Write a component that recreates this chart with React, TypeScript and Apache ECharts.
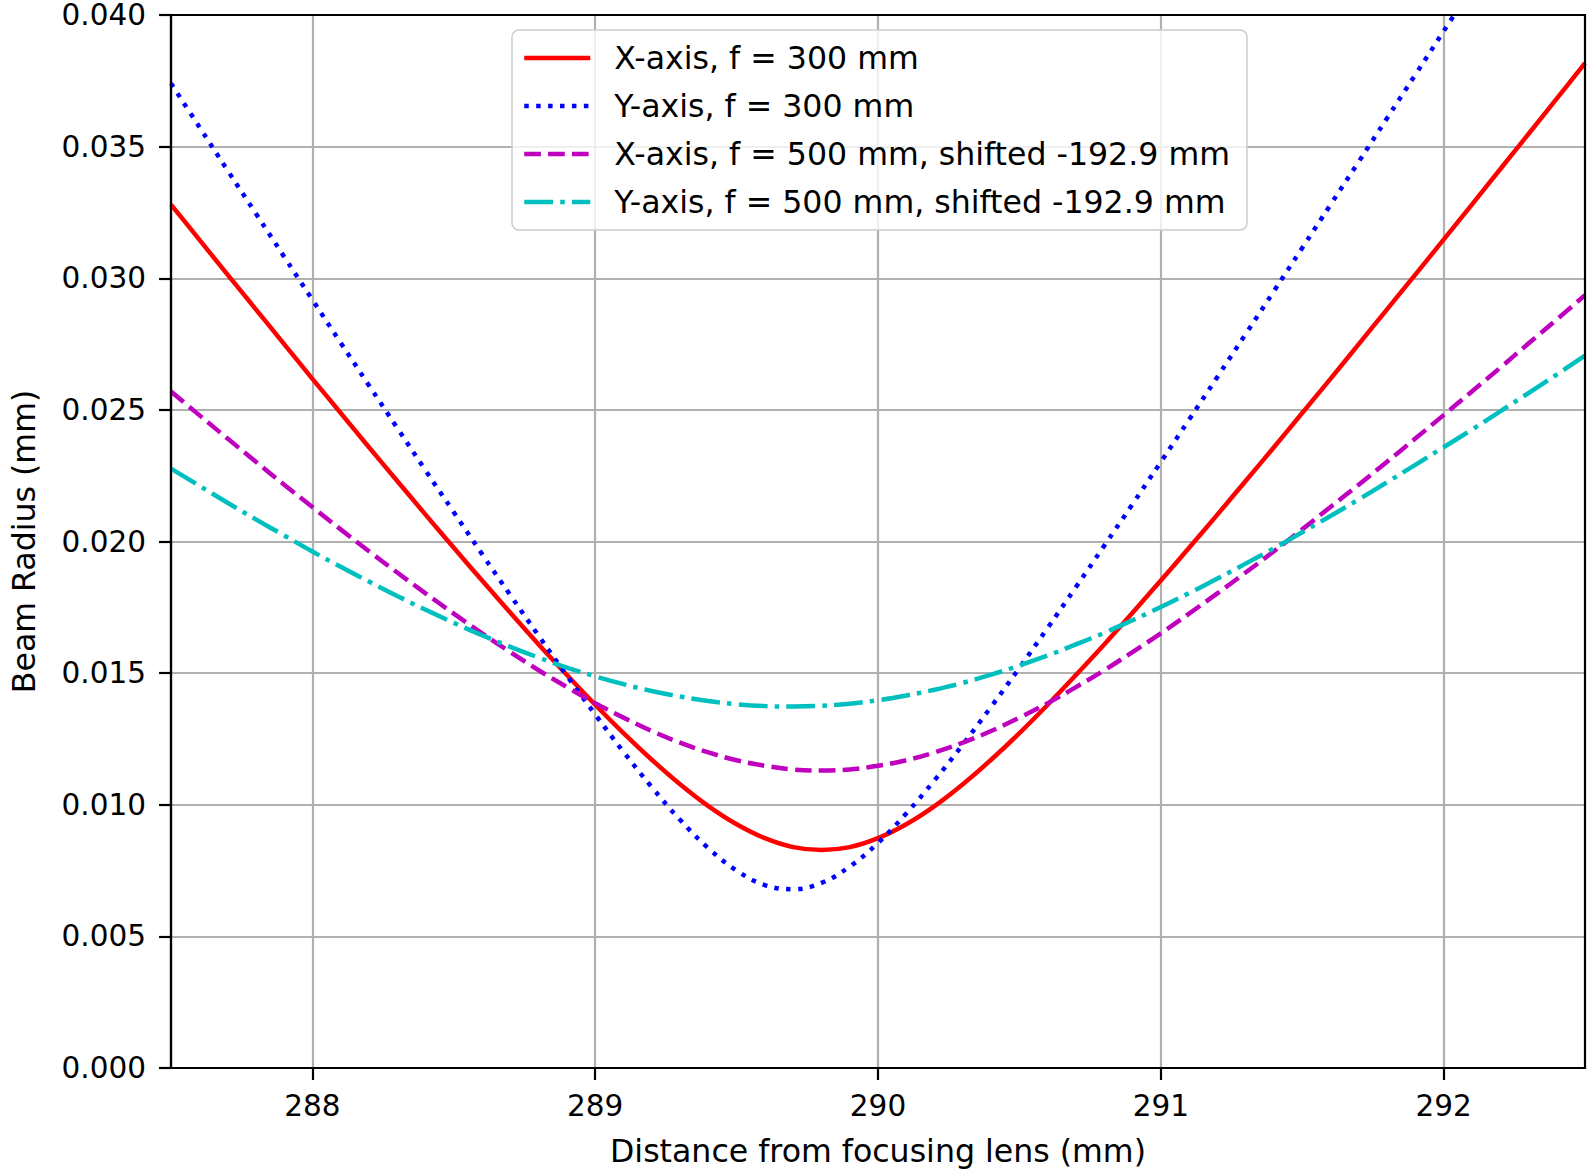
import React, { useEffect, useRef } from "react";
import * as echarts from "echarts";

// Distance from focusing lens (mm)
const distances = [
  287.5, 287.6, 287.7, 287.8, 287.9, 288.0, 288.1, 288.2, 288.3, 288.4,
  288.5, 288.6, 288.7, 288.8, 288.9, 289.0, 289.1, 289.2, 289.3, 289.4,
  289.5, 289.6, 289.7, 289.8, 289.9, 290.0, 290.1, 290.2, 290.3, 290.4,
  290.5, 290.6, 290.7, 290.8, 290.9, 291.0, 291.1, 291.2, 291.3, 291.4,
  291.5, 291.6, 291.7, 291.8, 291.9, 292.0, 292.1, 292.2, 292.3, 292.4,
  292.5,
];

// X-axis, f = 300 mm
const xAxis300 = [
  0.0328, 0.03147, 0.03014, 0.02882, 0.0275, 0.02618, 0.02488, 0.02358, 0.0223, 0.02102,
  0.01976, 0.01852, 0.01729, 0.01609, 0.01493, 0.0138, 0.01272, 0.01171, 0.01078, 0.00995,
  0.00926, 0.00873, 0.00839, 0.00828, 0.00839, 0.00873, 0.00926, 0.00995, 0.01078, 0.01171,
  0.01272, 0.0138, 0.01493, 0.01609, 0.01729, 0.01852, 0.01976, 0.02102, 0.0223, 0.02358,
  0.02488, 0.02618, 0.0275, 0.02882, 0.03014, 0.03147, 0.0328, 0.03414, 0.03548, 0.03682,
  0.03817,
];

// Y-axis, f = 300 mm (leaves the plot at the top after 292.0)
const yAxis300 = [
  0.0374, 0.03575, 0.0341, 0.03246, 0.03082, 0.02918, 0.02755, 0.02593, 0.02431, 0.0227,
  0.02111, 0.01952, 0.01796, 0.01642, 0.0149, 0.01343, 0.01201, 0.01067, 0.00943, 0.00835,
  0.0075, 0.00695, 0.00679, 0.00703, 0.00765, 0.00855, 0.00967, 0.01093, 0.01229, 0.01372,
  0.0152, 0.01672, 0.01827, 0.01984, 0.02142, 0.02302, 0.02463, 0.02625, 0.02788, 0.02951,
  0.03115, 0.03279, 0.03443, 0.03608, 0.03773, 0.03938, 0.04104,
];

// X-axis, f = 500 mm, shifted -192.9 mm
const xAxis500 = [
  0.0257, 0.0248, 0.02391, 0.02303, 0.02216, 0.02131, 0.02046, 0.01963, 0.01882, 0.01803,
  0.01726, 0.01651, 0.0158, 0.01511, 0.01447, 0.01386, 0.01331, 0.0128, 0.01236, 0.01199,
  0.01169, 0.01148, 0.01134, 0.0113, 0.01134, 0.01148, 0.01169, 0.01199, 0.01236, 0.0128,
  0.01331, 0.01386, 0.01447, 0.01511, 0.0158, 0.01651, 0.01726, 0.01803, 0.01882, 0.01963,
  0.02046, 0.02131, 0.02216, 0.02303, 0.02391, 0.0248, 0.0257, 0.0266, 0.02752, 0.02843,
  0.02936,
];

// Y-axis, f = 500 mm, shifted -192.9 mm
const yAxis500 = [
  0.02277, 0.02212, 0.02147, 0.02084, 0.02023, 0.01962, 0.01904, 0.01848, 0.01793, 0.01741,
  0.01691, 0.01644, 0.016, 0.01559, 0.01521, 0.01488, 0.01458, 0.01432, 0.01411, 0.01394,
  0.01382, 0.01375, 0.01373, 0.01376, 0.01384, 0.01397, 0.01415, 0.01437, 0.01463, 0.01494,
  0.01529, 0.01567, 0.01609, 0.01653, 0.01701, 0.01751, 0.01804, 0.01859, 0.01916, 0.01974,
  0.02035, 0.02097, 0.0216, 0.02225, 0.02291, 0.02358, 0.02425, 0.02494, 0.02564, 0.02634,
  0.02706,
];

const seriesNames = [
  "X-axis, f = 300 mm",
  "Y-axis, f = 300 mm",
  "X-axis, f = 500 mm, shifted -192.9 mm",
  "Y-axis, f = 500 mm, shifted -192.9 mm",
];

const xTicks = [288, 289, 290, 291, 292];

const FONT = "DejaVu Sans";
const LW = 4.5;
const TICK_FONT = 29.5;
const LABEL_FONT = 31.6;

function pairs(values: number[]) {
  return values.map((v, i) => [distances[i], v]);
}

export default function App() {
  const ref = useRef<HTMLDivElement>(null);

  useEffect(() => {
    document.body.style.margin = "0";
    document.body.style.overflow = "hidden";
    if (!ref.current) return;
    const chart = echarts.init(ref.current, undefined, { renderer: "svg" });

    const mk = (name: string, values: number[], color: string, type: any) => ({
      name,
      type: "line",
      data: pairs(values),
      symbol: "none",
      smooth: 0.4,
      clip: true,
      lineStyle: { color, width: LW, type, cap: "butt" },
      itemStyle: { color },
      z: 3,
    });

    chart.setOption({
      animation: false,
      backgroundColor: "#ffffff",
      textStyle: { fontFamily: FONT },
      grid: {
        left: 170,
        top: 14,
        width: 1415,
        height: 1057,
        show: true,
        borderColor: "#000000",
        borderWidth: 2.2,
        backgroundColor: "transparent",
        z: 5,
      },
      legend: {
        orient: "vertical",
        left: 512,
        top: 30,
        padding: [12, 17, 12, 10],
        itemWidth: 66,
        itemHeight: 20,
        itemGap: 16,
        backgroundColor: "rgba(255,255,255,0.8)",
        borderColor: "#cccccc",
        borderWidth: 1.5,
        borderRadius: 7,
        itemStyle: { opacity: 0 },
        lineStyle: { width: LW },
        textStyle: {
          fontFamily: FONT,
          fontSize: LABEL_FONT,
          color: "#000000",
          padding: [0, 0, 0, 19],
        },
        data: seriesNames,
      },
      xAxis: {
        type: "value",
        min: 287.5,
        max: 292.5,
        name: "Distance from focusing lens (mm)",
        nameLocation: "middle",
        nameGap: 67,
        nameTextStyle: { fontFamily: FONT, fontSize: LABEL_FONT, color: "#000000" },
        axisLine: { show: true, onZero: false, lineStyle: { color: "#000000", width: 2.2 } },
        axisTick: {
          show: true,
          customValues: xTicks,
          length: 12,
          inside: false,
          lineStyle: { color: "#000000", width: 2.2 },
        },
        axisLabel: {
          customValues: xTicks,
          margin: 23,
          fontFamily: FONT,
          fontSize: TICK_FONT,
          color: "#000000",
          formatter: (v: number) => String(v),
        },
        splitLine: { show: true, lineStyle: { color: "#b0b0b0", width: 2.2 } },
      },
      yAxis: {
        type: "value",
        min: 0,
        max: 0.04,
        interval: 0.005,
        name: "Beam Radius (mm)",
        nameLocation: "middle",
        nameGap: 131,
        nameTextStyle: { fontFamily: FONT, fontSize: LABEL_FONT, color: "#000000" },
        axisLine: { show: true, lineStyle: { color: "#000000", width: 2.2 } },
        axisTick: {
          show: true,
          length: 12,
          inside: false,
          lineStyle: { color: "#000000", width: 2.2 },
        },
        axisLabel: {
          margin: 25,
          fontFamily: FONT,
          fontSize: TICK_FONT,
          lineHeight: 26,
          color: "#000000",
          formatter: (v: number) => v.toFixed(3),
        },
        splitLine: { show: true, lineStyle: { color: "#b0b0b0", width: 2.2 } },
      },
      series: [
        mk(seriesNames[0], xAxis300, "#ff0000", "solid"),
        mk(seriesNames[1], yAxis300, "#0000ff", [LW, LW * 1.65]),
        mk(seriesNames[2], xAxis500, "#bf00bf", [LW * 3.7, LW * 1.6]),
        mk(seriesNames[3], yAxis500, "#00bfbf", [LW * 6.4, LW * 1.6, LW, LW * 1.6]),
      ],
    });

    return () => chart.dispose();
  }, []);

  return <div ref={ref} style={{ width: 1588, height: 1172 }} />;
}
